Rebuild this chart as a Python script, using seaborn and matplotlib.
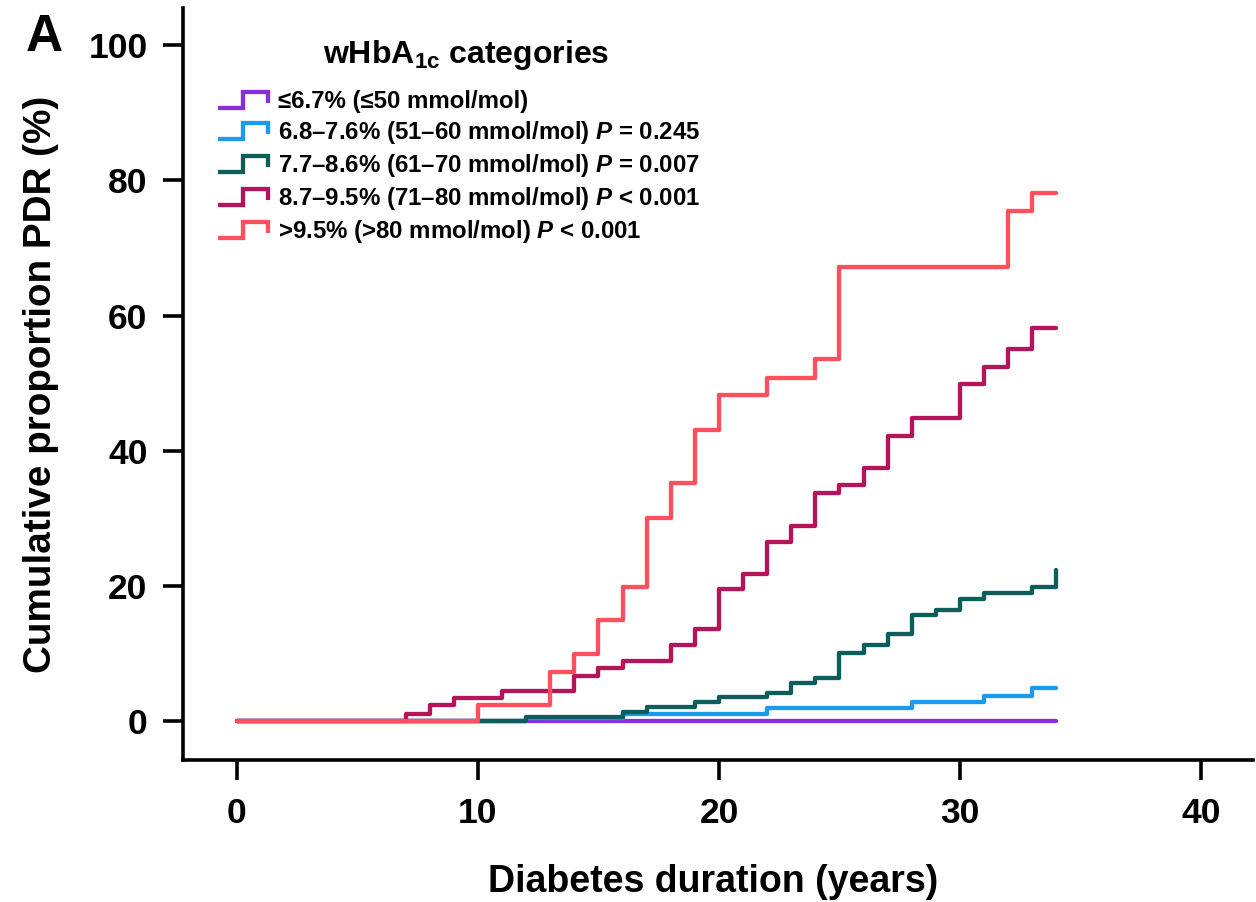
import numpy as np
import pandas as pd
import matplotlib
matplotlib.use("Agg")
import matplotlib.pyplot as plt
import seaborn as sns
from matplotlib.lines import Line2D
from matplotlib.legend_handler import HandlerBase

# ---------------- data ----------------
cat_labels = [
    "≤6.7% (≤50 mmol/mol)",
    r"6.8–7.6% (51–60 mmol/mol) $\mathit{P}$ = 0.245",
    r"7.7–8.6% (61–70 mmol/mol) $\mathit{P}$ = 0.007",
    r"8.7–9.5% (71–80 mmol/mol) $\mathit{P}$ < 0.001",
    r">9.5% (>80 mmol/mol) $\mathit{P}$ < 0.001",
]
legend_title = r"wHbA$_{\mathrm{1c}}$ categories"
colors = ["#8a2fd8", "#1a9bf0", "#0b5e59", "#b3145a", "#fe4f5c"]

t_le67 = [0, 34]
v_le67 = [0, 0]

t_68_76 = [0, 12, 16, 22, 28, 31, 33, 34]
v_68_76 = [0, 0.4, 1.0, 1.9, 2.8, 3.7, 4.9, 4.9]

t_77_86 = [0, 12, 16, 17, 19, 20, 22, 23, 24, 25, 26, 27, 28, 29, 30, 31, 33, 34, 34]
v_77_86 = [0, 0.55, 1.4, 2.0, 2.8, 3.5, 4.2, 5.6, 6.4, 10.0, 11.3, 12.8, 15.7, 16.4,
           18.0, 18.9, 19.9, 19.9, 22.3]

t_87_95 = [0, 7, 8, 9, 11, 14, 15, 16, 18, 19, 20, 21, 22, 23, 24, 25, 26, 27, 28,
           30, 31, 32, 33, 34]
v_87_95 = [0, 1.1, 2.4, 3.4, 4.4, 6.7, 7.9, 8.9, 11.2, 13.6, 19.6, 21.8, 26.5, 28.8,
           33.7, 34.9, 37.4, 42.2, 44.8, 49.9, 52.4, 55.0, 58.2, 58.2]

t_gt95 = [0, 10, 13, 14, 15, 16, 17, 18, 19, 20, 22, 24, 25, 32, 33, 34]
v_gt95 = [0, 2.4, 7.3, 9.9, 14.9, 19.8, 30.0, 35.2, 43.0, 48.2, 50.8, 53.5, 67.2,
          75.4, 78.2, 78.2]

x_ticks = [0, 10, 20, 30, 40]
y_ticks = [0, 20, 40, 60, 80, 100]

series_t = [t_le67, t_68_76, t_77_86, t_87_95, t_gt95]
series_v = [v_le67, v_68_76, v_77_86, v_87_95, v_gt95]
frames = []
for lab, tt, vv in zip(cat_labels, series_t, series_v):
    frames.append(pd.DataFrame({"t": tt, "v": vv, "cat": lab}))
df = pd.concat(frames, ignore_index=True)

# ---------------- style ----------------
sns.set_style("ticks")
plt.rcParams["font.family"] = ["Liberation Sans", "DejaVu Sans"]
plt.rcParams["font.weight"] = "bold"
plt.rcParams["text.color"] = "black"
plt.rcParams["axes.labelcolor"] = "black"
plt.rcParams["xtick.color"] = "black"
plt.rcParams["ytick.color"] = "black"
plt.rcParams["mathtext.fontset"] = "custom"
plt.rcParams["mathtext.rm"] = "Liberation Sans:bold"
plt.rcParams["mathtext.it"] = "Liberation Sans:italic:bold"
plt.rcParams["mathtext.bf"] = "Liberation Sans:bold"

W, H = 1256, 902
fig = plt.figure(figsize=(W / 100, H / 100), dpi=100)
ax = fig.add_axes([183 / W, 1 - 760 / H, (1253 - 183) / W, (760 - 8) / H])

sns.lineplot(data=df, x="t", y="v", hue="cat", hue_order=cat_labels,
             palette=colors, estimator=None, drawstyle="steps-post",
             linewidth=3.1, legend=False, ax=ax)

ax.set_xlim(-2.24, 42.16)
ax.set_ylim(-5.77, 105.5)
ax.set_xticks(x_ticks)
ax.set_yticks(y_ticks)
ax.set_xticklabels([str(v) for v in x_ticks])
ax.set_yticklabels([str(v) for v in y_ticks])

for s in ["top", "right"]:
    ax.spines[s].set_visible(False)
for s in ["left", "bottom"]:
    ax.spines[s].set_linewidth(2.6)
    ax.spines[s].set_color("black")

ax.tick_params(axis="both", direction="out", length=14.5, width=2.6,
               labelsize=25.5, colors="black", labelcolor="black")
ax.tick_params(axis="y", pad=11)
ax.tick_params(axis="x", pad=12)
for lbl in ax.get_xticklabels() + ax.get_yticklabels():
    lbl.set_fontweight("bold")

ax.set_xlabel("Diabetes duration (years)", fontsize=27, fontweight="bold",
              color="black")
ax.set_ylabel("Cumulative proportion PDR (%)", fontsize=27.8, fontweight="bold",
              color="black")
ax.xaxis.set_label_coords(0.495, -0.138)
ax.yaxis.set_label_coords(-0.116, 0.5)


# ---------------- legend ----------------
class StepHandler(HandlerBase):
    def create_artists(self, legend, orig_handle, xdescent, ydescent,
                       width, height, fontsize, trans):
        x0, y0 = -xdescent, -ydescent
        xs = [x0, x0 + 0.5 * width, x0 + 0.5 * width, x0 + width, x0 + width]
        ys = [y0, y0, y0 + height, y0 + height, y0 + 0.3 * height]
        ln = Line2D(xs, ys, color=orig_handle.get_color(),
                    linewidth=orig_handle.get_linewidth(),
                    solid_joinstyle="miter", solid_capstyle="butt",
                    transform=trans)
        return [ln]


handles = [Line2D([0], [0], color=c, lw=3.1) for c in colors]
leg = ax.legend(handles, cat_labels,
                handler_map={Line2D: StepHandler()},
                loc="upper left", bbox_to_anchor=(218 / W, 1 - 90 / H),
                bbox_transform=fig.transFigure, frameon=False,
                prop={"size": 17.3, "weight": "bold"},
                handlelength=2.1, handleheight=0.65, handletextpad=0.4,
                labelspacing=0.25, borderpad=0, borderaxespad=0)
for txt in leg.get_texts():
    txt.set_color("black")

fig.text(466 / W, 1 - 63 / H, legend_title, fontsize=23, fontweight="bold",
         ha="center", va="baseline", color="black")

fig.text(26 / W, 1 - 13 / H, "A", fontsize=37, fontweight="bold",
         ha="left", va="top", color="black")

fig.savefig("out.png", dpi=100)
